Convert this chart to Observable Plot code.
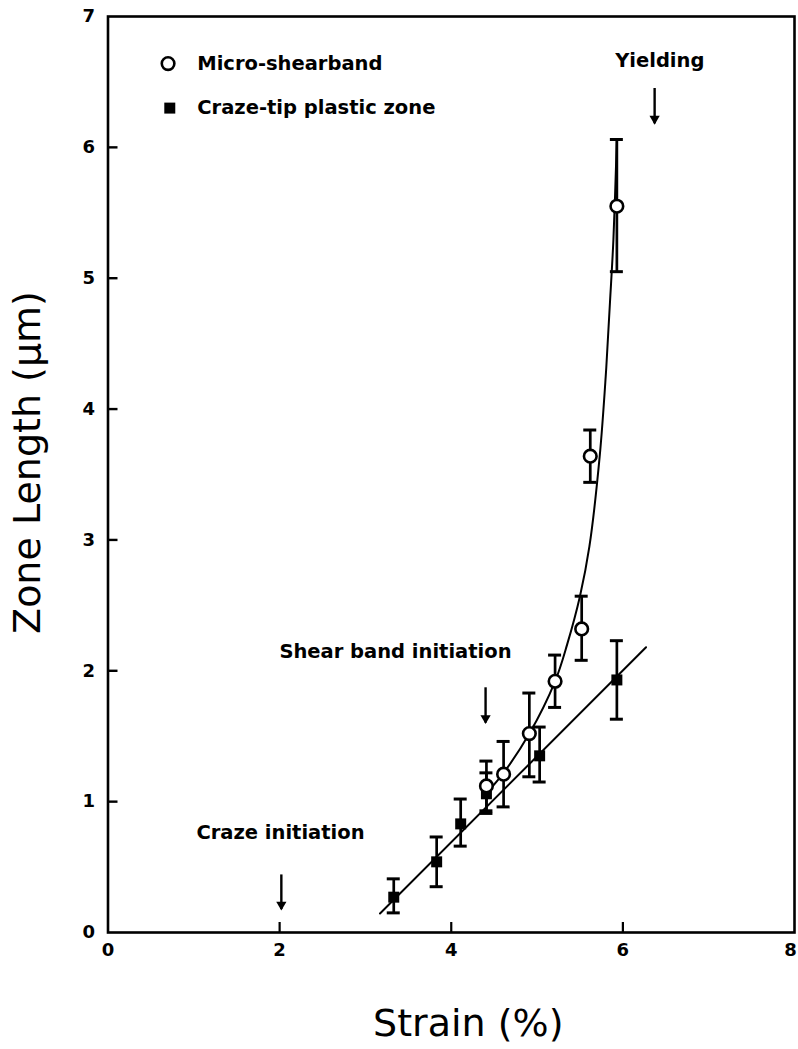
<!DOCTYPE html>
<html>
<head>
<meta charset="utf-8">
<script src="https://cdn.jsdelivr.net/npm/d3@7"></script>
<script src="https://cdn.jsdelivr.net/npm/@observablehq/plot@0.6"></script>
<style>
  html, body { margin: 0; padding: 0; background: #fff; }
</style>
</head>
<body>
<div id="chart"></div>
<script>
// ---- Data ----
// Micro-shearband (open circles)
const msX  = [4.41, 4.61, 4.91, 5.21, 5.52, 5.62, 5.93];
const msY  = [1.12, 1.21, 1.52, 1.92, 2.32, 3.64, 5.55];
const msLo = [0.93, 0.96, 1.19, 1.72, 2.08, 3.44, 5.05];
const msHi = [1.31, 1.46, 1.83, 2.12, 2.57, 3.84, 6.06];

// Craze-tip plastic zone (filled squares)
const czX  = [3.33, 3.83, 4.11, 4.41, 5.03, 5.93];
const czY  = [0.27, 0.54, 0.83, 1.06, 1.35, 1.93];
const czLo = [0.15, 0.35, 0.66, 0.91, 1.15, 1.63];
const czHi = [0.41, 0.73, 1.02, 1.22, 1.57, 2.23];

// Fitted curve through micro-shearband points
const curveX = [4.43, 4.61, 4.91, 5.21, 5.35, 5.50, 5.61, 5.73, 5.80, 5.85, 5.89, 5.93];
const curveY = [1.08, 1.22, 1.52, 1.92, 2.20, 2.57, 2.95, 3.64, 4.25, 4.82, 5.30, 6.06];

// Fitted straight line through craze-tip points (end points)
const lineX = [3.17, 6.27];
const lineY = [0.145, 2.18];

// Annotations
const annLabels = ["Craze initiation", "Shear band initiation", "Yielding"];
const annX      = [2.01, 3.35, 6.43];
const annY      = [0.76, 2.145, 6.66];
const arrowX    = [2.02, 4.40, 6.37];
const arrowTop  = [0.44, 1.87, 6.45];
const arrowTip  = [0.175, 1.60, 6.18];

// Legend
const legendLabels = ["Micro-shearband", "Craze-tip plastic zone"];
const legendX = [0.70, 0.72];
const legendTextX = [1.04, 1.04];
const legendY = [6.64, 6.30];
const legendSymbol = ["circle", "square"];

// Axes
const xTicks = [0, 2, 4, 6];
const xTickLast = [8];
const xTickMarks = [2, 4, 6];
const yTicks = [0, 1, 2, 3, 4, 5, 6, 7];
const yTickMarks = [1, 2, 3, 4, 5, 6];
const xTitle = "Strain (%)";
const yTitle = "Zone Length (\u03BCm)";

// ---- Build tables ----
const ms = msX.map((x, i) => ({x, y: msY[i], lo: msLo[i], hi: msHi[i]}));
const cz = czX.map((x, i) => ({x, y: czY[i], lo: czLo[i], hi: czHi[i]}));
const curve = curveX.map((x, i) => ({x, y: curveY[i]}));
const line = lineX.map((x, i) => ({x, y: lineY[i]}));
const ann = annLabels.map((t, i) => ({t, x: annX[i], y: annY[i]}));
const arrows = arrowX.map((x, i) => ({x, y1: arrowTop[i], y2: arrowTip[i]}));
const legend = legendLabels.map((t, i) => ({t, x: legendX[i], tx: legendTextX[i], y: legendY[i], s: legendSymbol[i]}));

const W = 798, H = 1049;
const mL = 107.5, mR = 4, mT = 16, mB = 117;
const plotW = W - mL - mR, plotH = H - mT - mB;
const tickLen = 10;
const boldFont = {fontFamily: "DejaVu Sans", fontWeight: "bold"};

const chart = Plot.plot({
  width: W, height: H,
  marginLeft: mL, marginRight: mR, marginTop: mT, marginBottom: mB,
  x: {domain: [0, 8]},
  y: {domain: [0, 7]},
  style: {background: "white", fontFamily: "DejaVu Sans", color: "black"},
  marks: [
    // inward tick marks
    Plot.tickX(xTickMarks, {x: d => d, insetTop: plotH - tickLen, stroke: "black", strokeWidth: 2.2}),
    Plot.tickY(yTickMarks, {y: d => d, insetRight: plotW - tickLen, stroke: "black", strokeWidth: 2.4}),
    // tick labels
    Plot.axisX(xTicks, {tickSize: 0, tickPadding: 11, fontSize: 18, fontWeight: "bold", tickFormat: "d", label: null}),
    Plot.axisX(xTickLast, {tickSize: 0, tickPadding: 11, fontSize: 18, fontWeight: "bold", tickFormat: "d", label: null, dx: -4}),
    Plot.axisY(yTicks, {tickSize: 0, tickPadding: 13, fontSize: 18, fontWeight: "bold", tickFormat: "d", label: null}),
    // axis titles
    Plot.text([xTitle], {frameAnchor: "bottom", textAnchor: "middle", lineAnchor: "middle", dx: 17, dy: 91, fontSize: 38, letterSpacing: 2.8, fill: "black"}),
    Plot.text([yTitle], {frameAnchor: "left", textAnchor: "middle", lineAnchor: "middle", rotate: -90, dx: -80, dy: -12, fontSize: 38, letterSpacing: 3.6, fill: "black"}),
    // fitted line and curve
    Plot.line(line, {x: "x", y: "y", stroke: "black", strokeWidth: 2}),
    Plot.line(curve, {x: "x", y: "y", curve: "catmull-rom", stroke: "black", strokeWidth: 2}),
    // error bars
    Plot.ruleX(cz, {x: "x", y1: "lo", y2: "hi", stroke: "black", strokeWidth: 2.7}),
    Plot.ruleY(cz, {y: "hi", x1: "x", x2: "x", insetLeft: -6.5, insetRight: -6.5, stroke: "black", strokeWidth: 3}),
    Plot.ruleY(cz, {y: "lo", x1: "x", x2: "x", insetLeft: -6.5, insetRight: -6.5, stroke: "black", strokeWidth: 3}),
    Plot.ruleX(ms, {x: "x", y1: "lo", y2: "hi", stroke: "black", strokeWidth: 2.7}),
    Plot.ruleY(ms, {y: "hi", x1: "x", x2: "x", insetLeft: -6.5, insetRight: -6.5, stroke: "black", strokeWidth: 3}),
    Plot.ruleY(ms, {y: "lo", x1: "x", x2: "x", insetLeft: -6.5, insetRight: -6.5, stroke: "black", strokeWidth: 3}),
    // markers
    Plot.dot(cz, {x: "x", y: "y", symbol: "square", r: 6.2, fill: "black", stroke: "none"}),
    Plot.dot(ms, {x: "x", y: "y", symbol: "circle", r: 6.3, fill: "white", stroke: "black", strokeWidth: 2.6}),
    // annotation arrows
    Plot.ruleX(arrows, {x: "x", y1: "y1", y2: "y2", stroke: "black", strokeWidth: 2.4}),
    Plot.dot(arrows, {x: "x", y: "y2", symbol: "triangle", rotate: 180, r: 3.8, dy: -5, fill: "black", stroke: "none"}),
    Plot.text(ann, {x: "x", y: "y", text: "t", fontSize: 19.5, letterSpacing: 2.8, fill: "black", ...boldFont}),
    // legend
    Plot.dot(legend.filter(d => d.s === "circle"), {x: "x", y: "y", symbol: "circle", r: 6.3, fill: "white", stroke: "black", strokeWidth: 2.6}),
    Plot.dot(legend.filter(d => d.s === "square"), {x: "x", y: "y", symbol: "square", r: 6.2, fill: "black", stroke: "none"}),
    Plot.text(legend, {x: "tx", y: "y", text: "t", textAnchor: "start", fontSize: 19.5, letterSpacing: 3, fill: "black", ...boldFont}),
    // frame
    Plot.frame({stroke: "black", strokeWidth: 2.6})
  ]
});
document.getElementById("chart").appendChild(chart);
</script>
</body>
</html>
